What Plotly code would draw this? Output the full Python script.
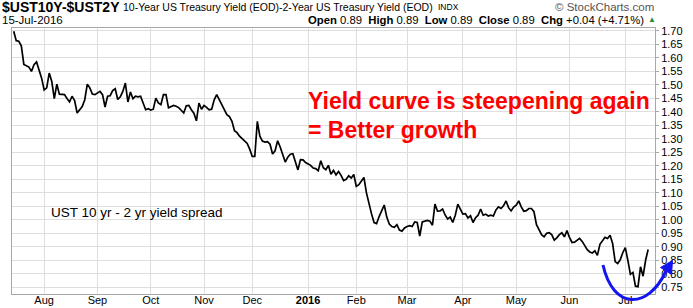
import pandas as pd
import plotly.graph_objects as go

# ---- data: 10y-2y Treasury spread, daily closes per month ----
jul15 = [1.699, 1.664, 1.662, 1.645, 1.576, 1.571, 1.566, 1.550, 1.575, 1.585, 1.555, 1.525]
aug15 = [1.481, 1.489, 1.544, 1.513, 1.449, 1.503, 1.466, 1.466, 1.464, 1.450, 1.437, 1.458,
         1.442, 1.396, 1.409, 1.420, 1.445, 1.503, 1.489, 1.466, 1.464]
sep15 = [1.470, 1.476, 1.464, 1.418, 1.458, 1.460, 1.479, 1.486, 1.446, 1.456, 1.476, 1.507,
         1.437, 1.474, 1.449, 1.458, 1.456, 1.458, 1.433, 1.408, 1.412]
oct15 = [1.407, 1.410, 1.451, 1.433, 1.427, 1.464, 1.464, 1.415, 1.420, 1.424, 1.421, 1.416,
         1.406, 1.396, 1.423, 1.424, 1.408, 1.395, 1.367, 1.433, 1.410]
nov15 = [1.424, 1.417, 1.408, 1.410, 1.445, 1.464, 1.445, 1.430, 1.408, 1.390, 1.383, 1.365,
         1.330, 1.323, 1.310, 1.302, 1.293, 1.283, 1.262]
dec15 = [1.235, 1.235, 1.365, 1.310, 1.292, 1.288, 1.290, 1.280, 1.244, 1.256, 1.293, 1.270,
         1.243, 1.214, 1.232, 1.243, 1.245, 1.215, 1.185, 1.223, 1.222, 1.212]
jan16 = [1.206, 1.202, 1.192, 1.190, 1.182, 1.219, 1.193, 1.186, 1.202, 1.169, 1.183, 1.166,
         1.179, 1.165, 1.145, 1.150, 1.163, 1.155, 1.168]
feb16 = [1.124, 1.130, 1.145, 1.157, 1.100, 1.058, 1.022, 0.990, 0.986, 1.012, 1.035, 1.055,
         1.010, 0.984, 0.975, 0.972, 0.982, 0.962, 0.958, 0.970]
mar16 = [0.975, 0.978, 0.975, 0.992, 0.990, 0.940, 0.992, 0.996, 0.998, 0.995, 0.980, 1.058,
         1.032, 1.033, 1.040, 1.018, 1.003, 1.010, 0.990, 1.017, 1.058, 1.040]
apr16 = [1.021, 1.023, 1.007, 1.015, 0.990, 1.008, 1.017, 1.040, 1.017, 1.021, 1.014, 1.017,
         1.014, 1.036, 1.048, 1.042, 1.052, 1.070, 1.045, 1.033, 1.047]
may16 = [1.054, 1.070, 1.048, 1.032, 1.034, 1.042, 1.042, 1.030, 0.982, 0.960, 0.945, 0.937,
         0.950, 0.952, 0.945, 0.925, 0.933, 0.945, 0.952, 0.937, 0.960]
jun16 = [0.935, 0.916, 0.917, 0.925, 0.931, 0.920, 0.903, 0.889, 0.881, 0.877, 0.885, 0.868,
         0.909, 0.920, 0.935, 0.931, 0.943, 0.912, 0.845, 0.838, 0.852, 0.878]
jul16 = [0.897, 0.850, 0.798, 0.805, 0.754, 0.752, 0.826, 0.791, 0.850, 0.890]

bond_holidays = ["2015-09-07", "2015-10-12", "2015-11-11", "2015-11-26", "2015-12-25",
                 "2016-01-01", "2016-01-18", "2016-02-15", "2016-03-25", "2016-05-30",
                 "2016-07-04"]

month_ticks = ["2015-08-03", "2015-09-01", "2015-10-01", "2015-11-02", "2015-12-01",
               "2016-01-04", "2016-02-01", "2016-03-01", "2016-04-01", "2016-05-02",
               "2016-06-01", "2016-07-01"]
month_labels = ["Aug", "Sep", "Oct", "Nov", "Dec", "<b>2016</b>", "Feb", "Mar", "Apr",
                "May", "Jun", "Jul"]

values = (jul15 + aug15 + sep15 + oct15 + nov15 + dec15 + jan16 + feb16 + mar16 +
          apr16 + may16 + jun16 + jul16)
dates = pd.bdate_range("2015-07-16", "2016-07-15", freq="C",
                       holidays=bond_holidays).strftime("%Y-%m-%d").tolist()
assert len(dates) == len(values), (len(dates), len(values))

last, prev = values[-1], values[-2]
chg = last - prev

# ---- layout helpers (pixel -> paper) ----
W, H = 693, 308
L, R, T, B = 12, 38, 28, 14
def px(x):
    return (x - L) / (W - L - R)
def py(y):
    return (H - B - y) / (H - T - B)

FONT = "Liberation Sans, Arial, sans-serif"

fig = go.Figure()
fig.add_trace(go.Scatter(x=dates, y=values, mode="lines",
                         line=dict(color="#000000", width=1.7), hoverinfo="x+y"))

grid = "#dedede"
border = "#a8a8a8"
fig.update_layout(
    width=W, height=H,
    margin=dict(l=L, r=R, t=T, b=B),
    paper_bgcolor="white", plot_bgcolor="white",
    showlegend=False,
    font=dict(family=FONT, color="#000000"),
    xaxis=dict(type="category", range=[-0.67, 252.7], tickmode="array",
               tickvals=month_ticks, ticktext=month_labels,
               showgrid=True, gridcolor=grid, gridwidth=1,
               showline=True, mirror=True, linecolor=border, linewidth=1,
               ticks="", tickfont=dict(size=11, color="#000000"),
               ticklabelstandoff=-4,
               automargin=False, fixedrange=True),
    yaxis=dict(side="right", range=[0.725, 1.711], dtick=0.05, tickformat=".2f",
               showgrid=True, gridcolor=grid, gridwidth=1, zeroline=False,
               showline=True, mirror=True, linecolor=border, linewidth=1,
               ticks="outside", ticklen=3, tickcolor=border,
               tickfont=dict(size=11, color="#000000"),
               automargin=False, fixedrange=True),
)

def note(text, x, y, size, xanchor="left", color="#000000", bold=False):
    if bold:
        text = "<b>" + text + "</b>"
    fig.add_annotation(text=text, x=px(x), y=py(y), xref="paper", yref="paper",
                       xanchor=xanchor, yanchor="middle", showarrow=False,
                       borderpad=0, font=dict(family=FONT, size=size, color=color))

# header line 1
note("$UST10Y-$UST2Y", 1, 6.5, 14, bold=True)
note("10-Year US Treasury Yield (EOD)-2-Year US Treasury Yield (EOD)", 122, 7, 10.5)
note("INDX", 437, 7, 8.5)
note("© StockCharts.com", 655, 7, 11.5, xanchor="right", color="#555555")
# header line 2
note("15-Jul-2016", 1, 20.5, 11.5)
ohlc = (f"<b>Open</b> {last:.2f}  <b>High</b> {last:.2f}  <b>Low</b> {last:.2f}  "
        f"<b>Close</b> {last:.2f}  <b>Chg</b> {chg:+.2f} ({chg / prev * 100:+.2f}%)")
note(ohlc, 645, 20.5, 11.3, xanchor="right")
note("▲", 647, 19.5, 8, color="#2e8b2e")

# chart annotations
note("Yield curve is steepening again", 307, 101, 23, color="#ff0000", bold=True)
note("= Better growth", 307, 129.5, 23, color="#ff0000", bold=True)
note("UST 10 yr - 2 yr yield spread", 50, 212, 13.5)

# blue curved arrow
blue = "#1414f0"
p0, p1, p2, p3 = (603, 265), (613, 310), (648, 310), (666, 271)
arc = "M {},{} C {},{} {},{} {},{}".format(
    px(p0[0]), py(p0[1]), px(p1[0]), py(p1[1]), px(p2[0]), py(p2[1]), px(p3[0]), py(p3[1]))
fig.add_shape(type="path", path=arc, xref="paper", yref="paper",
              line=dict(color=blue, width=3), layer="above")
tip, c1, c2 = (672.5, 260.5), (671.5, 274.5), (660.5, 267.5)
head = "M {},{} L {},{} L {},{} Z".format(px(tip[0]), py(tip[1]), px(c1[0]), py(c1[1]),
                                          px(c2[0]), py(c2[1]))
fig.add_shape(type="path", path=head, xref="paper", yref="paper",
              line=dict(color=blue, width=1), fillcolor=blue, layer="above")

fig.write_html("out.html", config={"displayModeBar": False})
